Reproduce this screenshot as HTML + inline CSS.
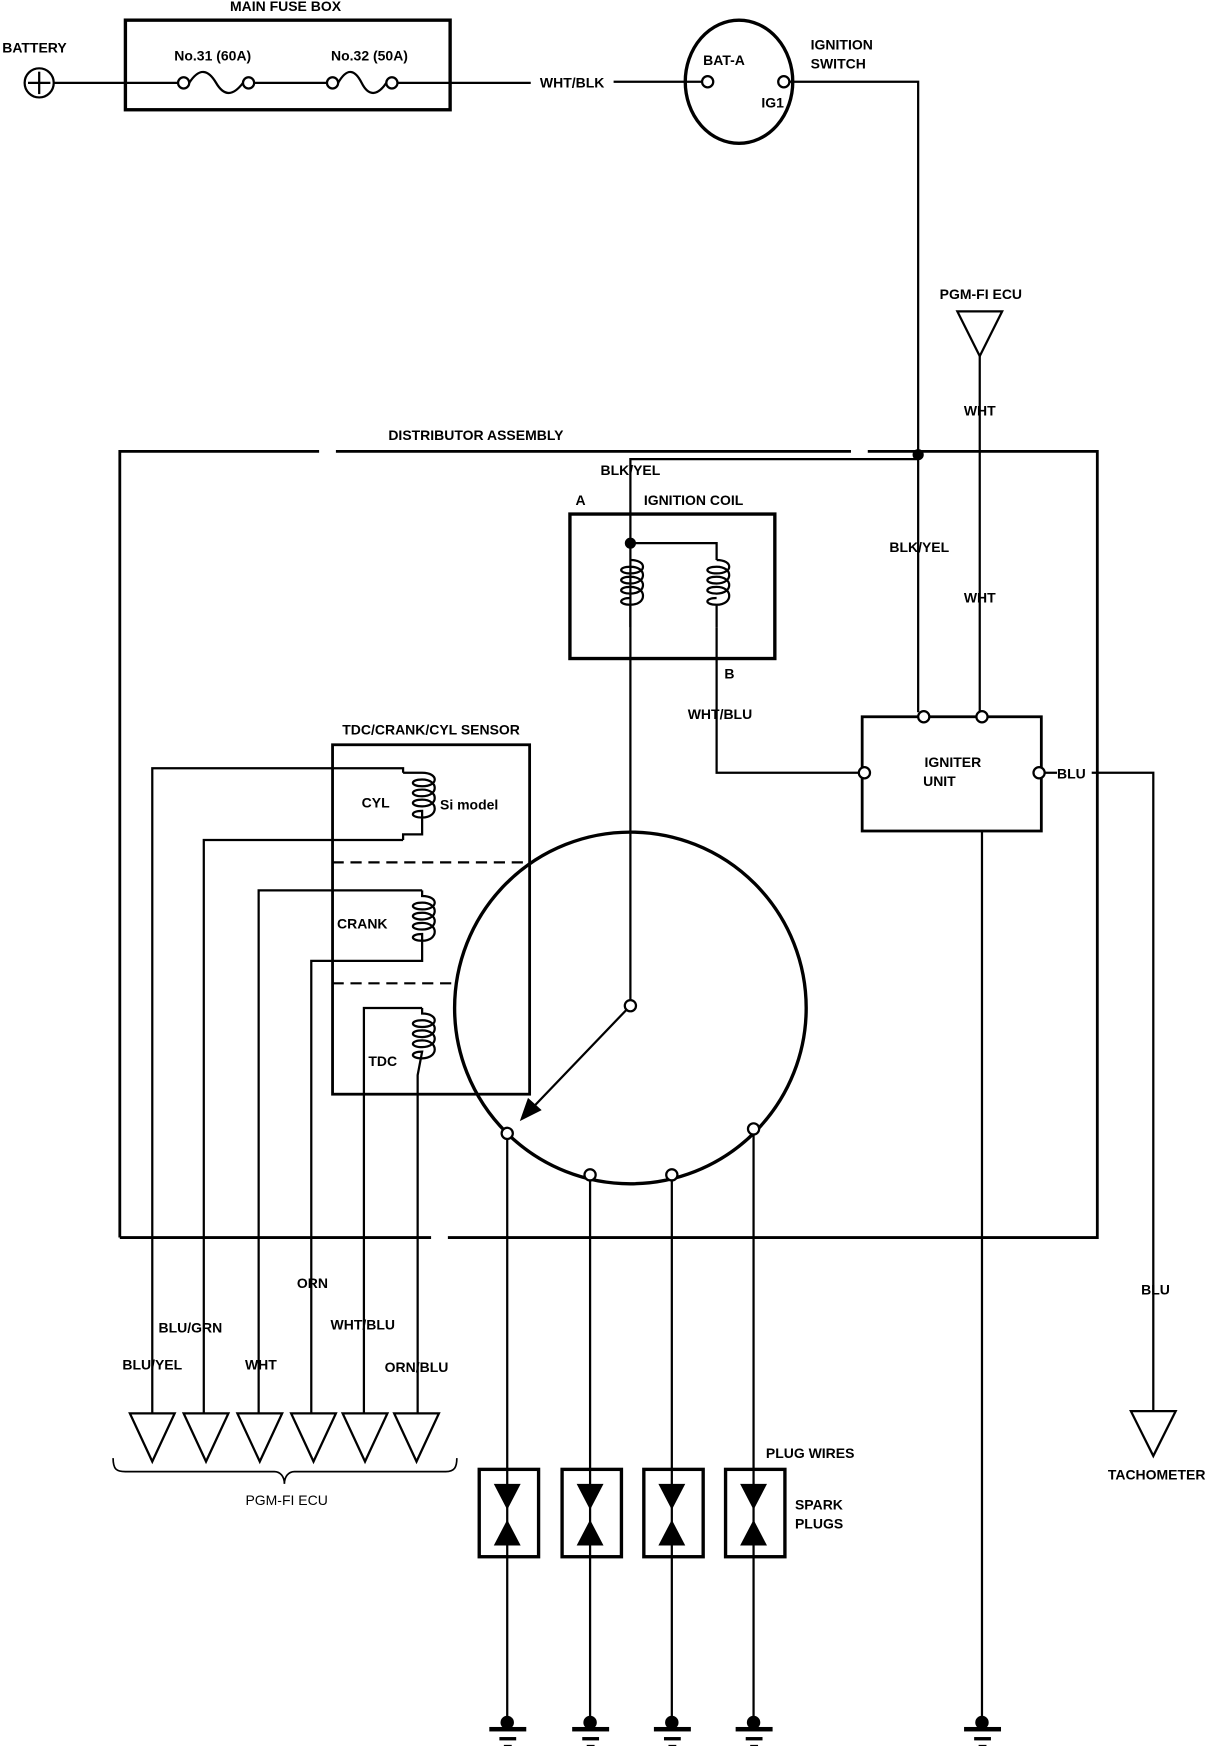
<!DOCTYPE html>
<html><head><meta charset="utf-8"><style>
html,body{margin:0;padding:0;background:#fff;}
svg{display:block;}
text{font-family:"Liberation Sans",sans-serif;font-weight:bold;font-size:12.5px;fill:#000;}
</style></head><body>
<svg width="1216" height="1746" viewBox="0 0 1086 1559" preserveAspectRatio="none" xmlns="http://www.w3.org/2000/svg">
<g stroke="#000" fill="none" stroke-width="2">
<!-- battery -->
<circle cx="35" cy="74" r="13"/>
<line x1="35" y1="64" x2="35" y2="84"/><line x1="25" y1="74" x2="45" y2="74"/>
<line x1="48" y1="74" x2="159" y2="74"/>
<!-- fuse box -->
<rect x="112" y="18" width="290" height="80" stroke-width="3"/>
<circle cx="164" cy="74" r="5"/><circle cx="222" cy="74" r="5"/>
<path d="M169 74 C178 60 186 62 193 74 C200 86 208 86 217 74"/>
<line x1="227" y1="74" x2="292" y2="74"/>
<circle cx="297" cy="74" r="5"/><circle cx="350" cy="74" r="5"/>
<path d="M302 74 C310 60 317 62 323 74 C329 86 337 86 345 74"/>
<line x1="355" y1="74" x2="474" y2="74"/>
<line x1="548" y1="73" x2="627" y2="73"/>
<!-- ignition switch -->
<ellipse cx="660" cy="73" rx="48" ry="55" stroke-width="3"/>
<circle cx="632" cy="73" r="5"/><circle cx="700" cy="73" r="5"/>
<polyline points="705,73 820,73 820,405"/>
<!-- PGM-FI top -->
<polygon points="855,278 895,278 875,318"/>
<line x1="875" y1="318" x2="875" y2="636"/>
<!-- distributor box -->
<path d="M107 1105 L107 403 L285 403 M300 403 L760 403 M775 403 L980 403 L980 1105 L400 1105 M385 1105 L107 1105" stroke-width="2.5"/>
<circle cx="820" cy="406" r="4" fill="#000"/>
<polyline points="820,410 563,410 563,898"/>
<!-- ignition coil -->
<rect x="509" y="459" width="183" height="129" stroke-width="3"/>
<circle cx="563" cy="485" r="4" fill="#000"/>
<polyline points="563,485 640,485 640,500"/>
<path d="M563 500 C578 500 578 512 563 512 C552 512 552 506 563 506 C578 506 578 521 563 521 C552 521 552 515 563 515 C578 515 578 530 563 530 C552 530 552 524 563 524 C578 524 578 540 563 540 C552 540 552 534 563 534 M563 540 L563 560"/>
<path d="M640 500 C655 500 655 512 640 512 C629 512 629 506 640 506 C655 506 655 521 640 521 C629 521 629 515 640 515 C655 515 655 530 640 530 C629 530 629 524 640 524 C655 524 655 540 640 540 C629 540 629 534 640 534 M640 540 L640 560"/>
<polyline points="640,560 640,690 767,690"/>
<!-- igniter -->
<line x1="820" y1="405" x2="820" y2="636"/>
<rect x="770" y="640" width="160" height="102" stroke-width="2.5"/>
<circle cx="825" cy="640" r="5" fill="#fff"/><circle cx="877" cy="640" r="5" fill="#fff"/>
<circle cx="772" cy="690" r="5" fill="#fff"/><circle cx="928" cy="690" r="5" fill="#fff"/>
<line x1="933" y1="690" x2="944" y2="690"/>
<polyline points="975,690 1030,690 1030,1260"/>
<polygon points="1010,1260 1050,1260 1030,1300"/>
<line x1="877" y1="742" x2="877" y2="1535"/>
<!-- distributor cap -->
<circle cx="563" cy="900" r="157" stroke-width="3"/>
<line x1="563" y1="898" x2="470" y2="995"/>
<polygon points="466,999 472,982 482,991" fill="#000"/>
<circle cx="563" cy="898" r="5" fill="#fff"/>
<!-- sensor -->
<rect x="297" y="665" width="176" height="312" stroke-width="2.5"/>
<line x1="297" y1="770" x2="473" y2="770" stroke-dasharray="10,6"/>
<line x1="297" y1="878" x2="405" y2="878" stroke-dasharray="10,6"/>
<polyline points="136,1262 136,686 360,686 360,690"/>
<path d="M360 690 L377 690 C392 690 392 702 377 702 C366 702 366 696 377 696 C392 696 392 711 377 711 C366 711 366 705 377 705 C392 705 392 720 377 720 C366 720 366 714 377 714 C392 714 392 730 377 730 C366 730 366 724 377 724 L377 745 L360 745 L360 750"/>
<polyline points="360,750 182,750 182,1262"/>
<polyline points="231,1262 231,795 360,795 377,795"/>
<path d="M377 795 L377 800 C392 800 392 812 377 812 C366 812 366 806 377 806 C392 806 392 821 377 821 C366 821 366 815 377 815 C392 815 392 830 377 830 C366 830 366 824 377 824 C392 824 392 840 377 840 C366 840 366 834 377 834 L377 858 L278 858 L278 1262"/>
<polyline points="325,1262 325,900 377,900"/>
<path d="M377 900 L377 905 C392 905 392 917 377 917 C366 917 366 911 377 911 C392 911 392 926 377 926 C366 926 366 920 377 920 C392 920 392 935 377 935 C366 935 366 929 377 929 C392 929 392 945 377 945 C366 945 366 939 377 939 L373 960 L373 1262"/>
<!-- ECU triangles -->
<polygon points="116,1262 156,1262 136,1305"/>
<polygon points="164,1262 204,1262 184,1305"/>
<polygon points="212,1262 252,1262 232,1305"/>
<polygon points="260,1262 300,1262 280,1305"/>
<polygon points="306,1262 346,1262 326,1305"/>
<polygon points="352,1262 392,1262 372,1305"/>
<path d="M101 1302 C101 1312 104 1314 112 1314 L245 1314 C250 1314 254 1318 254 1325 C254 1318 258 1314 263 1314 L398 1314 C406 1314 408 1310 408 1302" stroke-width="1.5"/>
<!-- plug wires -->
<g>
<line x1="453" y1="1017" x2="453" y2="1535"/>
<line x1="527" y1="1054" x2="527" y2="1535"/>
<line x1="600" y1="1054" x2="600" y2="1535"/>
<line x1="673" y1="1013" x2="673" y2="1535"/>
<circle cx="453" cy="1012" r="5" fill="#fff"/>
<circle cx="527" cy="1049" r="5" fill="#fff"/>
<circle cx="600" cy="1049" r="5" fill="#fff"/>
<circle cx="673" cy="1008" r="5" fill="#fff"/>
<rect x="428" y="1312" width="53" height="78" stroke-width="3"/>
<rect x="502" y="1312" width="53" height="78" stroke-width="3"/>
<rect x="575" y="1312" width="53" height="78" stroke-width="3"/>
<rect x="648" y="1312" width="53" height="78" stroke-width="3"/>
</g>
</g>
<g fill="#000">
<polygon points="441,1325 465,1325 453,1348"/><polygon points="441,1380 465,1380 453,1357"/>
<polygon points="515,1325 539,1325 527,1348"/><polygon points="515,1380 539,1380 527,1357"/>
<polygon points="588,1325 612,1325 600,1348"/><polygon points="588,1380 612,1380 600,1357"/>
<polygon points="661,1325 685,1325 673,1348"/><polygon points="661,1380 685,1380 673,1357"/>
<!-- grounds -->
<g id="g1"><circle cx="453" cy="1538" r="6"/><rect x="437" y="1542" width="33" height="4"/><rect x="446" y="1551" width="15" height="3"/><rect x="450" y="1558" width="7" height="2"/></g>
<g transform="translate(74,0)"><circle cx="453" cy="1538" r="6"/><rect x="437" y="1542" width="33" height="4"/><rect x="446" y="1551" width="15" height="3"/><rect x="450" y="1558" width="7" height="2"/></g>
<g transform="translate(147,0)"><circle cx="453" cy="1538" r="6"/><rect x="437" y="1542" width="33" height="4"/><rect x="446" y="1551" width="15" height="3"/><rect x="450" y="1558" width="7" height="2"/></g>
<g transform="translate(220,0)"><circle cx="453" cy="1538" r="6"/><rect x="437" y="1542" width="33" height="4"/><rect x="446" y="1551" width="15" height="3"/><rect x="450" y="1558" width="7" height="2"/></g>
<g transform="translate(424,0)"><circle cx="453" cy="1538" r="6"/><rect x="437" y="1542" width="33" height="4"/><rect x="446" y="1551" width="15" height="3"/><rect x="450" y="1558" width="7" height="2"/></g>
</g>
<!-- labels -->
<text x="255" y="10" text-anchor="middle">MAIN FUSE BOX</text>
<text x="2" y="47">BATTERY</text>
<text x="190" y="54" text-anchor="middle">No.31 (60A)</text>
<text x="330" y="54" text-anchor="middle">No.32 (50A)</text>
<text x="511" y="78" text-anchor="middle">WHT/BLK</text>
<text x="628" y="58">BAT-A</text>
<text x="680" y="96">IG1</text>
<text x="724" y="44">IGNITION</text>
<text x="724" y="61">SWITCH</text>
<text x="876" y="267" text-anchor="middle">PGM-FI ECU</text>
<text x="875" y="371" text-anchor="middle">WHT</text>
<text x="875" y="538" text-anchor="middle">WHT</text>
<text x="425" y="393" text-anchor="middle">DISTRIBUTOR ASSEMBLY</text>
<text x="563" y="424" text-anchor="middle">BLK/YEL</text>
<text x="514" y="451">A</text>
<text x="575" y="451">IGNITION COIL</text>
<text x="821" y="493" text-anchor="middle">BLK/YEL</text>
<text x="647" y="606">B</text>
<text x="643" y="642" text-anchor="middle">WHT/BLU</text>
<text x="851" y="685" text-anchor="middle">IGNITER</text>
<text x="839" y="702" text-anchor="middle">UNIT</text>
<text x="944" y="695">BLU</text>
<text x="1032" y="1156" text-anchor="middle">BLU</text>
<text x="1033" y="1321" text-anchor="middle">TACHOMETER</text>
<text x="385" y="656" text-anchor="middle">TDC/CRANK/CYL SENSOR</text>
<text x="323" y="721">CYL</text>
<text x="393" y="723">Si model</text>
<text x="301" y="829">CRANK</text>
<text x="329" y="952">TDC</text>
<text x="279" y="1150" text-anchor="middle">ORN</text>
<text x="170" y="1190" text-anchor="middle">BLU/GRN</text>
<text x="324" y="1187" text-anchor="middle">WHT/BLU</text>
<text x="136" y="1223" text-anchor="middle">BLU/YEL</text>
<text x="233" y="1223" text-anchor="middle">WHT</text>
<text x="372" y="1225" text-anchor="middle">ORN/BLU</text>
<text x="256" y="1344" text-anchor="middle" style="font-weight:normal">PGM-FI ECU</text>
<text x="684" y="1302">PLUG WIRES</text>
<text x="710" y="1348">SPARK</text>
<text x="710" y="1365">PLUGS</text>
</svg>
</body></html>
